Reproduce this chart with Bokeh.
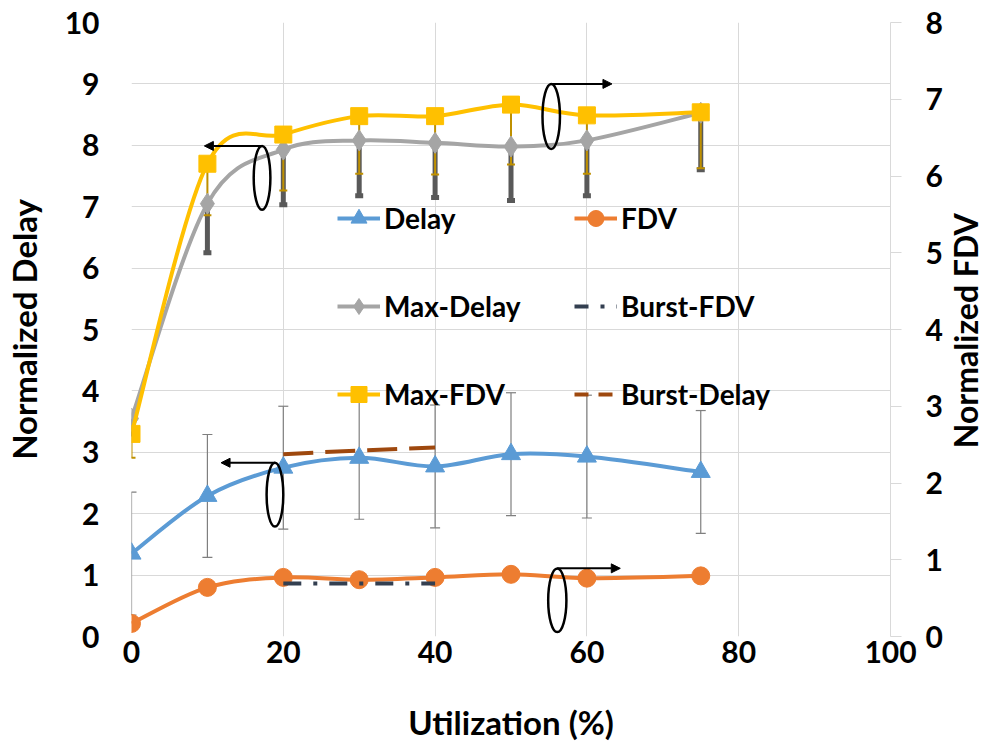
import math
from bokeh.plotting import figure
from bokeh.layouts import row
from bokeh.models import (Range1d, LinearAxis, Legend, LegendItem, Whisker, TeeHead,
                          ColumnDataSource, Arrow, NormalHead, FixedTicker)
from bokeh.core.properties import value
from bokeh.embed import file_html
from bokeh.resources import INLINE

# ---------------- data ----------------
util = [0, 10, 20, 30, 40, 50, 60, 75]
delay = [1.35, 2.29, 2.75, 2.91, 2.77, 2.97, 2.93, 2.68]
delay_err = [1, 1, 1, 1, 1, 1, 1, 1]
fdv = [0.17, 0.64, 0.77, 0.74, 0.77, 0.81, 0.76, 0.79]
max_delay = [3.55, 7.05, 7.93, 8.08, 8.04, 7.98, 8.08, 8.53]
max_delay_low = [3.3, 6.25, 7.03, 7.18, 7.15, 7.10, 7.18, 7.60]
max_fdv = [2.64, 6.16, 6.54, 6.78, 6.78, 6.93, 6.79, 6.83]
max_fdv_low = [2.33, 5.49, 5.81, 6.03, 6.02, 6.15, 6.03, 6.10]
burst_util = [20, 30, 40]
burst_delay = [2.97, 3.03, 3.08]
burst_fdv = [0.69, 0.69, 0.69]

x_ticks = [0, 20, 40, 60, 80, 100]
left_ticks = list(range(0, 11))
right_ticks = list(range(0, 9))

# annotation ellipses (left-axis coordinates) and arrow ends
ell_x = [17.2, 55.3, 18.9, 56.1]
ell_y = [7.47, 8.47, 2.31, 0.59]
ell_w = [2.2, 2.3, 2.2, 2.4]
ell_h = [1.04, 1.06, 1.04, 1.04]
arrow_end_x = [9.6, 63.3, 11.8, 64.4]

RIGHT_TITLE = "Normalized FDV"
RIGHT_TITLE_Y = 4.98

C_DELAY = "#5B9BD5"
C_FDV = "#ED7D31"
C_MAXD = "#A5A5A5"
C_MAXF = "#FFC000"
C_BFDV = "#333F50"
C_BDEL = "#9E480E"
FONT = "Lato"
NAN = float("nan")
H = 744
TOP = 22
BOTTOM = 108


def bezier_source(xs, ys):
    n = len(xs)
    pts = list(zip(xs, ys))
    d = dict(x0=[], y0=[], x1=[], y1=[], cx0=[], cy0=[], cx1=[], cy1=[])
    for i in range(n - 1):
        p0 = pts[i - 1] if i > 0 else pts[i]
        p1 = pts[i]
        p2 = pts[i + 1]
        p3 = pts[i + 2] if i + 2 < n else pts[i + 1]
        d["x0"].append(p1[0]); d["y0"].append(p1[1])
        d["x1"].append(p2[0]); d["y1"].append(p2[1])
        d["cx0"].append(p1[0] + (p2[0] - p0[0]) / 6.0)
        d["cy0"].append(p1[1] + (p2[1] - p0[1]) / 6.0)
        d["cx1"].append(p2[0] - (p3[0] - p1[0]) / 6.0)
        d["cy1"].append(p2[1] - (p3[1] - p1[1]) / 6.0)
    return ColumnDataSource(d)


p = figure(width=945, height=H, x_range=Range1d(0, 100), y_range=Range1d(0, 10),
           output_backend="svg", toolbar_location=None,
           min_border_left=127, min_border_right=54, min_border_top=TOP,
           min_border_bottom=BOTTOM)
p.extra_y_ranges = {"fdv": Range1d(0, 8)}
p.outline_line_color = None
p.background_fill_color = "white"

# axes
p.xaxis.ticker = FixedTicker(ticks=x_ticks)
p.yaxis.ticker = FixedTicker(ticks=left_ticks)
for ax in (p.xaxis[0], p.yaxis[0]):
    ax.axis_line_color = None
    ax.major_tick_line_color = None
    ax.major_tick_out = 0
    ax.major_tick_in = 0
    ax.minor_tick_line_color = None
    ax.minor_tick_out = 0
    ax.major_label_text_font = FONT
    ax.major_label_text_font_style = "bold"
    ax.major_label_text_font_size = "30px"
    ax.major_label_text_color = "black"
    ax.axis_label_text_font = FONT
    ax.axis_label_text_font_style = "bold"
    ax.axis_label_text_font_size = "33px"
    ax.axis_label_text_color = "black"
p.xaxis.axis_label = "Utilization (%)"
p.xaxis.major_label_standoff = 4
p.xaxis.axis_label_standoff = 36
p.yaxis.axis_label = "Normalized Delay"
p.yaxis.major_label_standoff = 32
p.yaxis.axis_label_standoff = 18

rax = LinearAxis(y_range_name="fdv", ticker=FixedTicker(ticks=right_ticks))
rax.axis_line_color = "#D9D9D9"
rax.major_tick_line_color = "#D9D9D9"
rax.major_tick_out = 11
rax.major_tick_in = 0
rax.minor_tick_line_color = None
rax.minor_tick_out = 0
rax.major_label_text_font = FONT
rax.major_label_text_font_style = "bold"
rax.major_label_text_font_size = "30px"
rax.major_label_text_color = "black"
rax.major_label_standoff = 24
p.add_layout(rax, "right")

p.xgrid.ticker = FixedTicker(ticks=x_ticks)
p.ygrid.ticker = FixedTicker(ticks=left_ticks)
p.xgrid.grid_line_color = "#D9D9D9"
p.ygrid.grid_line_color = "#D9D9D9"

# ---------------- error bars ----------------
src_delay = ColumnDataSource(dict(x=util, lo=[d - e for d, e in zip(delay, delay_err)],
                                  hi=[d + e for d, e in zip(delay, delay_err)]))
p.add_layout(Whisker(source=src_delay, base="x", lower="lo", upper="hi",
                     line_color="#7F7F7F", line_width=1.2, level="underlay",
                     lower_head=TeeHead(size=10, line_color="#7F7F7F", line_width=1.2),
                     upper_head=TeeHead(size=10, line_color="#7F7F7F", line_width=1.2)))

src_md = ColumnDataSource(dict(x=util, lo=max_delay_low, hi=max_delay))
p.add_layout(Whisker(source=src_md, base="x", lower="lo", upper="hi",
                     line_color="#595959", line_width=5, level="underlay",
                     lower_head=TeeHead(size=8, line_color="#595959", line_width=5),
                     upper_head=None))

src_mf = ColumnDataSource(dict(x=util, lo=max_fdv_low, hi=max_fdv))
p.add_layout(Whisker(source=src_mf, base="x", lower="lo", upper="hi", y_range_name="fdv",
                     line_color="#BF9000", line_width=2, level="underlay",
                     lower_head=TeeHead(size=8, line_color="#BF9000", line_width=2),
                     upper_head=None))

# ---------------- series ----------------
LW = 4
p.bezier("x0", "y0", "x1", "y1", "cx0", "cy0", "cx1", "cy1",
         source=bezier_source(util, delay), line_color=C_DELAY, line_width=LW)
p.scatter(util, delay, marker="triangle", size=19, fill_color=C_DELAY, line_color=C_DELAY)

p.bezier("x0", "y0", "x1", "y1", "cx0", "cy0", "cx1", "cy1",
         source=bezier_source(util, max_delay), line_color=C_MAXD, line_width=LW)
p.scatter(util, max_delay, marker="diamond", size=21, fill_color=C_MAXD, line_color=C_MAXD)

p.line(burst_util, burst_delay, line_color=C_BDEL, line_width=LW, line_dash="30 12")

p.bezier("x0", "y0", "x1", "y1", "cx0", "cy0", "cx1", "cy1",
         source=bezier_source(util, fdv), line_color=C_FDV, line_width=LW, y_range_name="fdv")
p.scatter(util, fdv, marker="circle", size=18, fill_color=C_FDV, line_color=C_FDV,
          y_range_name="fdv")

p.bezier("x0", "y0", "x1", "y1", "cx0", "cy0", "cx1", "cy1",
         source=bezier_source(util, max_fdv), line_color=C_MAXF, line_width=LW, y_range_name="fdv")
p.scatter(util, max_fdv, marker="square", size=17, fill_color=C_MAXF, line_color=C_MAXF,
          y_range_name="fdv")

p.line(burst_util, burst_fdv, line_color=C_BFDV, line_width=LW, line_dash="18 12 4 12",
       y_range_name="fdv")

# ---------------- annotations ----------------
p.ellipse(ell_x, ell_y, width=ell_w, height=ell_h, fill_color=None, line_color="black",
          line_width=2.5)
for ex, ey, eh, ax_end in zip(ell_x, ell_y, ell_h, arrow_end_x):
    top = ey + eh / 2.0
    p.add_layout(Arrow(x_start=ex, y_start=top, x_end=ax_end, y_end=top,
                       line_color="black", line_width=2,
                       end=NormalHead(size=9, fill_color="black", line_color="black")))

# ---------------- legend ----------------
def leg_line(color, dash="solid"):
    return p.line([NAN], [NAN], line_color=color, line_width=LW, line_dash=dash)


def leg_marker(color, marker):
    return p.scatter([NAN], [NAN], marker=marker, fill_color=color, line_color=color)


items_a = [
    LegendItem(label="Delay", renderers=[leg_line(C_DELAY), leg_marker(C_DELAY, "triangle")]),
    LegendItem(label="Max-Delay", renderers=[leg_line(C_MAXD), leg_marker(C_MAXD, "diamond")]),
    LegendItem(label="Max-FDV", renderers=[leg_line(C_MAXF), leg_marker(C_MAXF, "square")]),
]
items_b = [
    LegendItem(label="FDV", renderers=[leg_line(C_FDV), leg_marker(C_FDV, "circle")]),
    LegendItem(label="Burst-FDV", renderers=[leg_line(C_BFDV, "14 12 4 12")]),
    LegendItem(label="Burst-Delay", renderers=[leg_line(C_BDEL, "14 10")]),
]


def make_legend(items, loc):
    lg = Legend(items=items, location=loc, orientation="vertical",
                glyph_width=43, glyph_height=40, label_height=40, spacing=48,
                label_standoff=4, padding=0, margin=0,
                border_line_color=None, background_fill_alpha=0,
                label_text_font=FONT, label_text_font_style="bold",
                label_text_font_size="28px", label_text_color="black")
    return lg


p.add_layout(make_legend(items_a, (206, 222)), "center")
p.add_layout(make_legend(items_b, (443, 222)), "center")

# ---------------- right-axis title strip (reads bottom-to-top) ----------------
q = figure(width=34, height=H, x_range=Range1d(0, 1), y_range=Range1d(0, 10),
           output_backend="svg", toolbar_location=None,
           x_axis_type=None, y_axis_type=None,
           min_border_left=0, min_border_right=0, min_border_top=TOP,
           min_border_bottom=BOTTOM)
q.outline_line_color = None
q.xgrid.visible = False
q.ygrid.visible = False
q.text(x=[0.6], y=[RIGHT_TITLE_Y], text=[RIGHT_TITLE], angle=math.pi / 2,
       text_font=value(FONT), text_font_style="bold", text_font_size="32px",
       text_align="center", text_baseline="middle", text_color="black")

layout = row(p, q)
open("out.html", "w").write(file_html(layout, INLINE))
